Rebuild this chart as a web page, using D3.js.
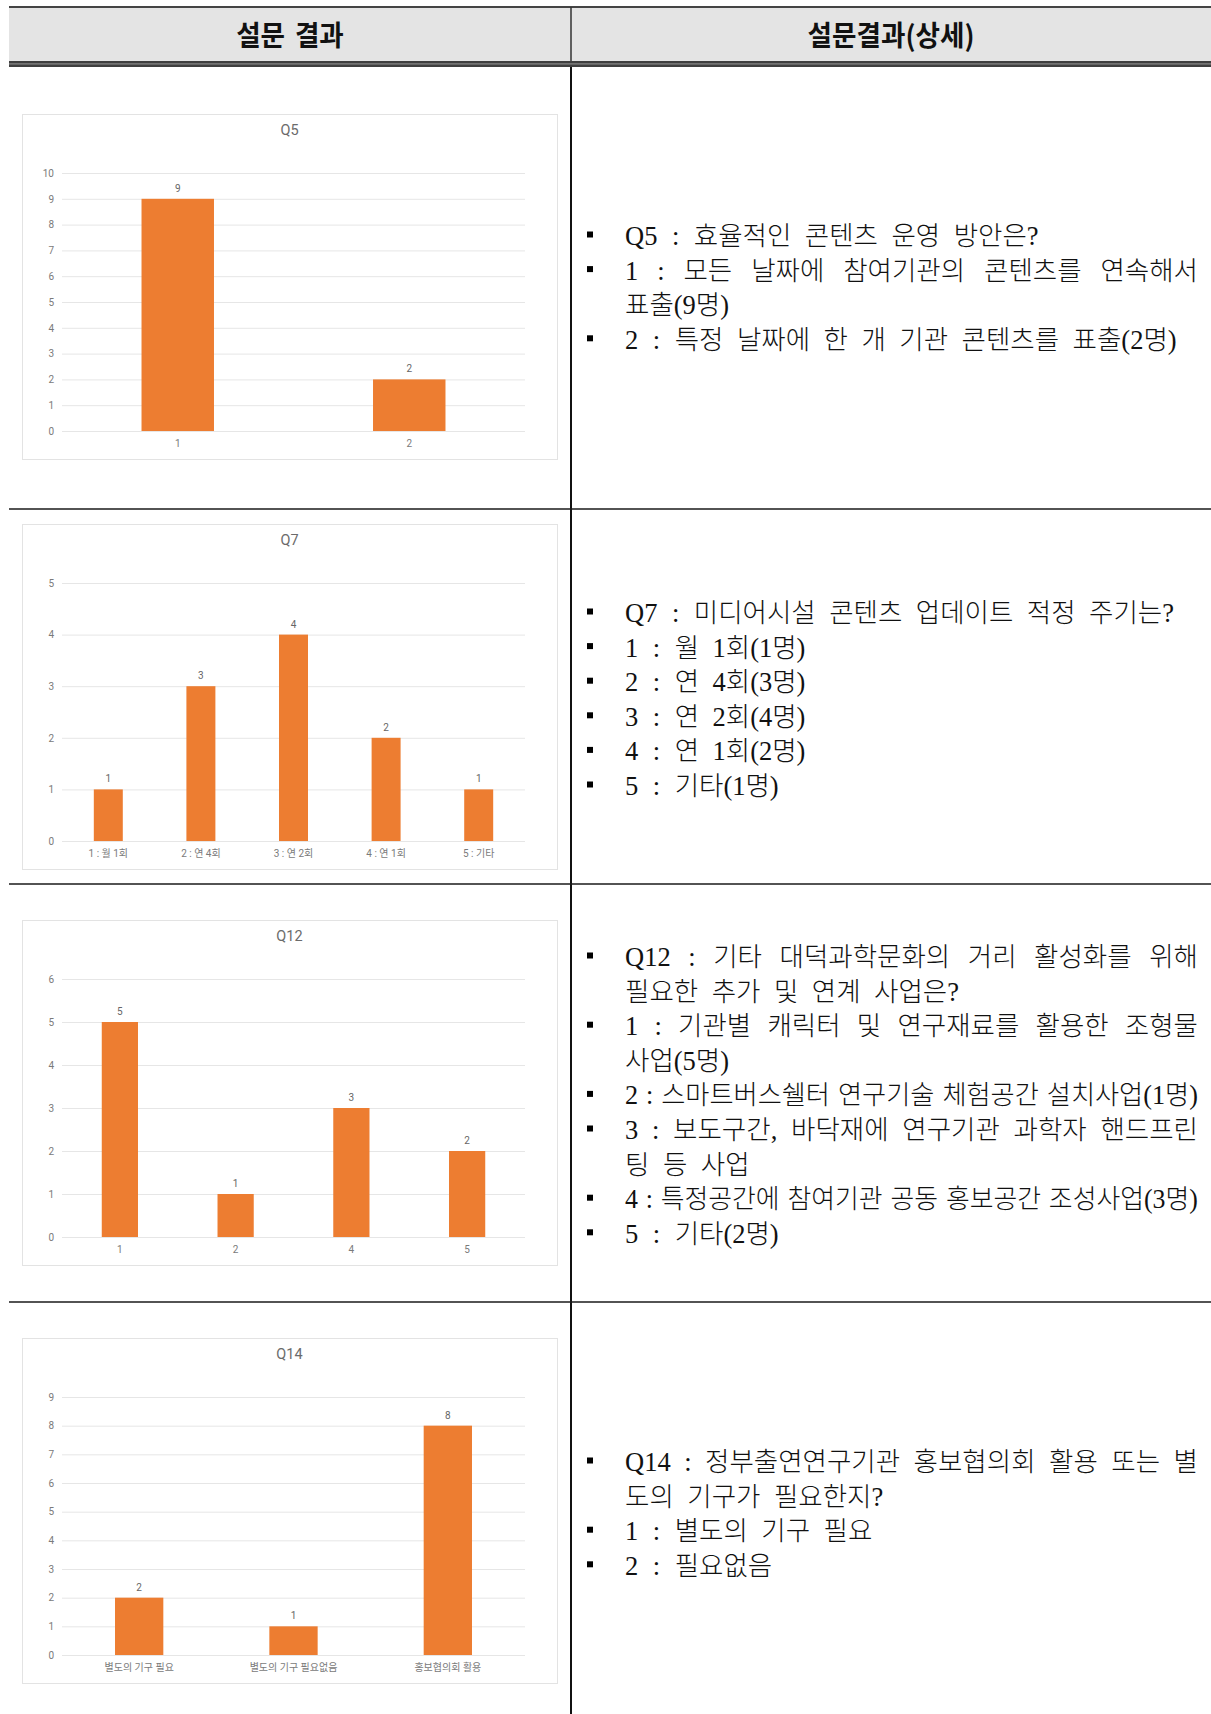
<!DOCTYPE html>
<html><head><meta charset="utf-8">
<script src="https://cdn.jsdelivr.net/npm/d3@7"></script>
<style>
html,body{margin:0;padding:0;background:#fff;}
svg{display:block;}
</style></head><body>
<svg id="c" width="1211" height="1714"></svg>
<script>
// ---------- data ----------
const headerLabels = ["설문 결과", "설문결과(상세)"];

const q5Title = "Q5";
const q5Categories = ["1", "2"];
const q5Values = [9, 2];
const q5Ticks = [0,1,2,3,4,5,6,7,8,9,10];

const q7Title = "Q7";
const q7Categories = ["1 : 월 1회", "2 : 연 4회", "3 : 연 2회", "4 : 연 1회", "5 : 기타"];
const q7Values = [1, 3, 4, 2, 1];
const q7Ticks = [0,1,2,3,4,5];

const q12Title = "Q12";
const q12Categories = ["1", "2", "4", "5"];
const q12Values = [5, 1, 3, 2];
const q12Ticks = [0,1,2,3,4,5,6];

const q14Title = "Q14";
const q14Categories = ["별도의 기구 필요", "별도의 기구 필요없음", "홍보협의회 활용"];
const q14Values = [2, 1, 8];
const q14Ticks = [0,1,2,3,4,5,6,7,8,9];

// text lines: [text, bullet, justify]
const q5Lines = [
  ["Q5 : 효율적인 콘텐츠 운영 방안은?", true, false],
  ["1 : 모든 날짜에 참여기관의 콘텐츠를 연속해서", true, true],
  ["표출(9명)", false, false],
  ["2 : 특정 날짜에 한 개 기관 콘텐츠를 표출(2명)", true, false]
];
const q7Lines = [
  ["Q7 : 미디어시설 콘텐츠 업데이트 적정 주기는?", true, false],
  ["1 : 월 1회(1명)", true, false],
  ["2 : 연 4회(3명)", true, false],
  ["3 : 연 2회(4명)", true, false],
  ["4 : 연 1회(2명)", true, false],
  ["5 : 기타(1명)", true, false]
];
const q12Lines = [
  ["Q12 : 기타 대덕과학문화의 거리 활성화를 위해", true, true],
  ["필요한 추가 및 연계 사업은?", false, false],
  ["1 : 기관별 캐릭터 및 연구재료를 활용한 조형물", true, true],
  ["사업(5명)", false, false],
  ["2 : 스마트버스쉘터 연구기술 체험공간 설치사업(1명)", true, false],
  ["3 : 보도구간, 바닥재에 연구기관 과학자 핸드프린", true, true],
  ["팅 등 사업", false, false],
  ["4 : 특정공간에 참여기관 공동 홍보공간 조성사업(3명)", true, false],
  ["5 : 기타(2명)", true, false]
];
const q14Lines = [
  ["Q14 : 정부출연연구기관 홍보협의회 활용 또는 별", true, true],
  ["도의 기구가 필요한지?", false, false],
  ["1 : 별도의 기구 필요", true, false],
  ["2 : 필요없음", true, false]
];

// ---------- layout ----------
const svg = d3.select("#c");
svg.append("rect").attr("width",1211).attr("height",1714).attr("fill","#fff");

const colX = 571, leftX = 9, rightX = 1211;
const rowLines = [509, 884, 1302];

// header
svg.append("rect").attr("x",leftX).attr("y",7).attr("width",rightX-leftX).attr("height",55).attr("fill","#e4e4e4");
svg.append("line").attr("x1",leftX).attr("x2",rightX).attr("y1",7).attr("y2",7).attr("stroke","#444").attr("stroke-width",2);
svg.append("rect").attr("x",leftX).attr("y",61).attr("width",rightX-leftX).attr("height",6).attr("fill","#3f3f3f");
svg.append("rect").attr("x",leftX).attr("y",63.3).attr("width",rightX-leftX).attr("height",1.2).attr("fill","#8a8a8a");
svg.append("line").attr("x1",colX).attr("x2",colX).attr("y1",7).attr("y2",61).attr("stroke","#333").attr("stroke-width",1.5);
svg.append("line").attr("x1",colX).attr("x2",colX).attr("y1",67).attr("y2",1714).attr("stroke","#111").attr("stroke-width",2);
rowLines.forEach(y => svg.append("line").attr("x1",leftX).attr("x2",rightX).attr("y1",y).attr("y2",y).attr("stroke","#1a1a1a").attr("stroke-width",1.6));

const headerCx = [(leftX+colX)/2, (colX+rightX)/2];
headerLabels.forEach((t,i) => {
  svg.append("g").attr("transform",`translate(${headerCx[i]},46) scale(0.95,1)`)
    .append("text").attr("text-anchor","middle")
    .attr("font-family","'Noto Sans CJK KR', sans-serif").attr("font-weight",700)
    .attr("font-size",28).attr("fill","#111").attr("word-spacing",4).text(t);
});

// ---------- charts ----------
function drawChart(top, title, cats, vals, ticks) {
  const g = svg.append("g").attr("transform",`translate(0,${top})`);
  const bx = 22, bw = 535, bh = 345;
  const pl = 62, pr = 525, pt = 59, pb = 317;
  g.append("rect").attr("x",bx+0.5).attr("y",0.5).attr("width",bw).attr("height",bh)
    .attr("fill","#fff").attr("stroke","#e3e3e3");
  g.append("text").attr("x",bx+bw/2).attr("y",21).attr("text-anchor","middle")
    .attr("font-family","Roboto, 'Noto Sans CJK KR', sans-serif").attr("font-size",14.5)
    .attr("fill","#6b6b6b").text(title);

  const x = d3.scaleBand().domain(cats).range([pl,pr]).paddingInner(0.687).paddingOuter(0.3435);
  const y = d3.scaleLinear().domain([0, d3.max(ticks)]).range([pb,pt]);

  const ya = g.append("g").attr("transform",`translate(${pl},0)`)
    .call(d3.axisLeft(y).tickValues(ticks).tickSize(-(pr-pl)).tickPadding(8).tickFormat(d3.format("d")));
  ya.select(".domain").remove();
  ya.selectAll("line").attr("stroke","#e6e6e6").attr("stroke-width",1);
  ya.selectAll("text").attr("fill","#7a7a7a").attr("font-size",10)
    .attr("font-family","Roboto, sans-serif");

  const xa = g.append("g").attr("transform",`translate(0,${pb})`)
    .call(d3.axisBottom(x).tickSize(0).tickPadding(8.5));
  xa.select(".domain").remove();
  xa.selectAll("text").attr("fill","#7a7a7a").attr("font-size",10)
    .attr("font-family","Roboto, 'Noto Sans CJK KR', sans-serif");

  g.selectAll("rect.bar").data(vals).enter().append("rect").attr("class","bar")
    .attr("x",(d,i)=>x(cats[i])).attr("width",x.bandwidth())
    .attr("y",d=>y(d)).attr("height",d=>y(0)-y(d)).attr("fill","#ED7D31");

  g.selectAll("text.val").data(vals).enter().append("text").attr("class","val")
    .attr("x",(d,i)=>x(cats[i])+x.bandwidth()/2).attr("y",d=>y(d)-7)
    .attr("text-anchor","middle").attr("font-size",10).attr("fill","#666")
    .attr("font-family","Roboto, sans-serif").text(d=>d);
}

drawChart(114, q5Title, q5Categories, q5Values, q5Ticks);
drawChart(524, q7Title, q7Categories, q7Values, q7Ticks);
drawChart(920, q12Title, q12Categories, q12Values, q12Ticks);
drawChart(1338, q14Title, q14Categories, q14Values, q14Ticks);

// ---------- text column ----------
const txtLeft = 625, txtRight = 1198, lineH = 34.6, normalGap = 13.5, colonExtra = 1, minGap = 8;
const txtFont = "'Liberation Serif', 'Noto Sans CJK KR', serif";
function drawLines(firstBase, lines) {
  lines.forEach((ln, i) => {
    const base = firstBase + i*lineH;
    const [t, bullet, justify] = ln;
    if (bullet) {
      svg.append("rect").attr("x",587).attr("y",base-13.5).attr("width",6).attr("height",6).attr("fill","#000");
    }
    const lg = svg.append("g");
    const words = t.split(" ");
    const nodes = words.map(w => lg.append("text").attr("y",0)
      .attr("font-family",txtFont).attr("font-size",26.5).attr("font-weight",300)
      .attr("fill","#111").text(w));
    const widths = nodes.map(n => n.node().getComputedTextLength());
    const sum = d3.sum(widths);
    const avail = txtRight - txtLeft;
    const n = words.length;
    let gaps = d3.range(n-1).map(k => normalGap + ((words[k] === ":" || words[k+1] === ":") ? colonExtra : 0));
    let sx = 1;
    if (justify && n > 1) {
      const g0 = (avail - sum)/(n-1);
      if (g0 >= minGap) gaps = gaps.map(() => g0);
      else { gaps = gaps.map(() => minGap); sx = avail/(sum + minGap*(n-1)); }
    } else if (sum + d3.sum(gaps) > avail) {
      gaps = gaps.map(() => minGap);
      sx = avail / (sum + minGap*(n-1));
    }
    let cx = 0;
    nodes.forEach((nd,k) => { nd.attr("x",cx); cx += widths[k] + (k < n-1 ? gaps[k] : 0); });
    lg.attr("transform",`translate(${txtLeft},${base}) scale(${sx},1)`);
  });
}
drawLines(245, q5Lines);
drawLines(622, q7Lines);
drawLines(966, q12Lines);
drawLines(1471, q14Lines);
</script>
</body></html>
